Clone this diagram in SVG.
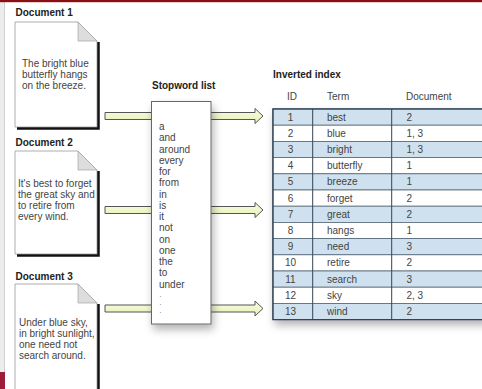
<svg xmlns="http://www.w3.org/2000/svg" width="482" height="389" viewBox="0 0 482 389">
<defs>
<style>
.t{font-family:"Liberation Sans",Arial,sans-serif;font-size:10px;fill:#444}
.b{font-family:"Liberation Sans",Arial,sans-serif;font-size:10px;font-weight:bold;fill:#222}
.dot{font-family:"Liberation Sans",Arial,sans-serif;font-size:6.5px;fill:#444}
.doc{fill:#fff;stroke:#999;stroke-width:0.8}
.fold{fill:#ddd;stroke:#999;stroke-width:0.6}
.dsh{fill:none;stroke:#111;stroke-width:2.5}
.arrow{fill:url(#ag);stroke:#555;stroke-width:1}
.row{stroke:#556677;stroke-width:0.8}
.odd{fill:#cfe1ee}
.even{fill:#fff}
.num{text-anchor:middle}
</style>
<linearGradient id="ag" x1="0" y1="0" x2="0" y2="1">
<stop offset="0" stop-color="#fbfde8"/>
<stop offset="1" stop-color="#e6efb0"/>
</linearGradient>
<filter id="sh" x="-30%" y="-10%" width="160%" height="130%">
<feDropShadow dx="2" dy="5" stdDeviation="4" flood-color="#000" flood-opacity="0.3"/>
</filter>
</defs>
<rect x="0" y="0" width="482" height="389" fill="#fff"/>
<rect x="0" y="0" width="4" height="389" fill="#ececec"/>
<line x1="4.5" y1="2" x2="4.5" y2="389" stroke="#d0d0d0" stroke-width="1"/>
<rect x="0" y="0" width="482" height="2.2" fill="#8a0f12"/>
<rect x="0" y="372" width="5" height="17" fill="#9c1c3a"/>

<g id="connectors">
<path class="arrow" d="M105,112.5 H255 V108.5 L263,116 L255,123.5 V119.5 H105 Z"/>
<path class="arrow" d="M105,206.5 H255 V202.5 L263,210 L255,217.5 V213.5 H105 Z"/>
<path class="arrow" d="M105,305 H255 V301 L263,308.5 L255,316 V312 H105 Z"/>
</g>

<g id="doc1">
<text class="b" x="15.5" y="16">Document 1</text>
<path class="doc" d="M15,22 H78 L97,41 V127 H15 Z"/>
<path class="fold" d="M78,22 L97,41 H78 Z"/>
<path class="dsh" d="M98.5,42 V128.5 H17"/>
<text class="t" x="22" y="66.5">The bright blue</text>
<text class="t" x="22" y="77.5">butterfly hangs</text>
<text class="t" x="22" y="88.5">on the breeze.</text>
</g>

<g id="doc2">
<text class="b" x="15.5" y="145.5">Document 2</text>
<path class="doc" d="M15,151 H78 L97,170 V254 H15 Z"/>
<path class="fold" d="M78,151 L97,170 H78 Z"/>
<path class="dsh" d="M98.5,171 V255.5 H17"/>
<text class="t" x="18" y="186.5">It's best to forget</text>
<text class="t" x="18" y="197.5">the great sky and</text>
<text class="t" x="18" y="208.5">to retire from</text>
<text class="t" x="18" y="219.5">every wind.</text>
</g>

<g id="doc3">
<text class="b" x="15.5" y="279.5">Document 3</text>
<path class="doc" d="M15,284 H78 L97,303 V395 H15 Z"/>
<path class="fold" d="M78,284 L97,303 H78 Z"/>
<path class="dsh" d="M98.5,304 V396"/>
<text class="t" x="19" y="326">Under blue sky,</text>
<text class="t" x="19" y="337">in bright sunlight,</text>
<text class="t" x="19" y="348">one need not</text>
<text class="t" x="19" y="359">search around.</text>
</g>

<g id="stopwords">
<text class="b" x="152" y="89">Stopword list</text>
<rect x="151.5" y="101.5" width="59.5" height="222.5" fill="#fff" stroke="#666" stroke-width="1" filter="url(#sh)"/>
<text class="t" x="159" y="130">a</text>
<text class="t" x="159" y="141.25">and</text>
<text class="t" x="159" y="152.5">around</text>
<text class="t" x="159" y="163.75">every</text>
<text class="t" x="159" y="175">for</text>
<text class="t" x="159" y="186.25">from</text>
<text class="t" x="159" y="197.5">in</text>
<text class="t" x="159" y="208.75">is</text>
<text class="t" x="159" y="220">it</text>
<text class="t" x="159" y="231.25">not</text>
<text class="t" x="159" y="242.5">on</text>
<text class="t" x="159" y="253.75">one</text>
<text class="t" x="159" y="265">the</text>
<text class="t" x="159" y="276.25">to</text>
<text class="t" x="159" y="287.5">under</text>
<text class="dot" x="159.5" y="296.5">.</text>
<text class="dot" x="159.5" y="304.5">.</text>
<text class="dot" x="159.5" y="312.5">.</text>
</g>

<g id="index">
<text class="b" x="273" y="78">Inverted index</text>
<text class="t num" x="292" y="100">ID</text>
<text class="t" x="327" y="100">Term</text>
<text class="t" x="406" y="100">Document</text>
<g filter="url(#sh)">
<rect x="273" y="109" width="215" height="210.6" fill="#fff" stroke="#334455" stroke-width="1"/>
</g>
<rect class="row odd" x="273" y="109" width="215" height="16.2"/>
<rect class="row even" x="273" y="125.2" width="215" height="16.2"/>
<rect class="row odd" x="273" y="141.4" width="215" height="16.2"/>
<rect class="row even" x="273" y="157.6" width="215" height="16.2"/>
<rect class="row odd" x="273" y="173.8" width="215" height="16.2"/>
<rect class="row even" x="273" y="190" width="215" height="16.2"/>
<rect class="row odd" x="273" y="206.2" width="215" height="16.2"/>
<rect class="row even" x="273" y="222.4" width="215" height="16.2"/>
<rect class="row odd" x="273" y="238.6" width="215" height="16.2"/>
<rect class="row even" x="273" y="254.8" width="215" height="16.2"/>
<rect class="row odd" x="273" y="271" width="215" height="16.2"/>
<rect class="row even" x="273" y="287.2" width="215" height="16.2"/>
<rect class="row odd" x="273" y="303.4" width="215" height="16.2"/>
<rect x="273" y="109" width="215" height="210.6" fill="none" stroke="#334455" stroke-width="1.2"/>
<line x1="312.7" y1="109" x2="312.7" y2="319.6" stroke="#334455" stroke-width="1"/>
<line x1="391.7" y1="109" x2="391.7" y2="319.6" stroke="#334455" stroke-width="1"/>
<text class="t num" x="290.5" y="120.6">1</text><text class="t" x="327" y="120.6">best</text><text class="t" x="406.5" y="120.6">2</text>
<text class="t num" x="290.5" y="136.8">2</text><text class="t" x="327" y="136.8">blue</text><text class="t" x="406.5" y="136.8">1, 3</text>
<text class="t num" x="290.5" y="153">3</text><text class="t" x="327" y="153">bright</text><text class="t" x="406.5" y="153">1, 3</text>
<text class="t num" x="290.5" y="169.2">4</text><text class="t" x="327" y="169.2">butterfly</text><text class="t" x="406.5" y="169.2">1</text>
<text class="t num" x="290.5" y="185.4">5</text><text class="t" x="327" y="185.4">breeze</text><text class="t" x="406.5" y="185.4">1</text>
<text class="t num" x="290.5" y="201.6">6</text><text class="t" x="327" y="201.6">forget</text><text class="t" x="406.5" y="201.6">2</text>
<text class="t num" x="290.5" y="217.8">7</text><text class="t" x="327" y="217.8">great</text><text class="t" x="406.5" y="217.8">2</text>
<text class="t num" x="290.5" y="234">8</text><text class="t" x="327" y="234">hangs</text><text class="t" x="406.5" y="234">1</text>
<text class="t num" x="290.5" y="250.2">9</text><text class="t" x="327" y="250.2">need</text><text class="t" x="406.5" y="250.2">3</text>
<text class="t num" x="290.5" y="266.4">10</text><text class="t" x="327" y="266.4">retire</text><text class="t" x="406.5" y="266.4">2</text>
<text class="t num" x="290.5" y="282.6">11</text><text class="t" x="327" y="282.6">search</text><text class="t" x="406.5" y="282.6">3</text>
<text class="t num" x="290.5" y="298.8">12</text><text class="t" x="327" y="298.8">sky</text><text class="t" x="406.5" y="298.8">2, 3</text>
<text class="t num" x="290.5" y="315">13</text><text class="t" x="327" y="315">wind</text><text class="t" x="406.5" y="315">2</text>
</g>
</svg>
